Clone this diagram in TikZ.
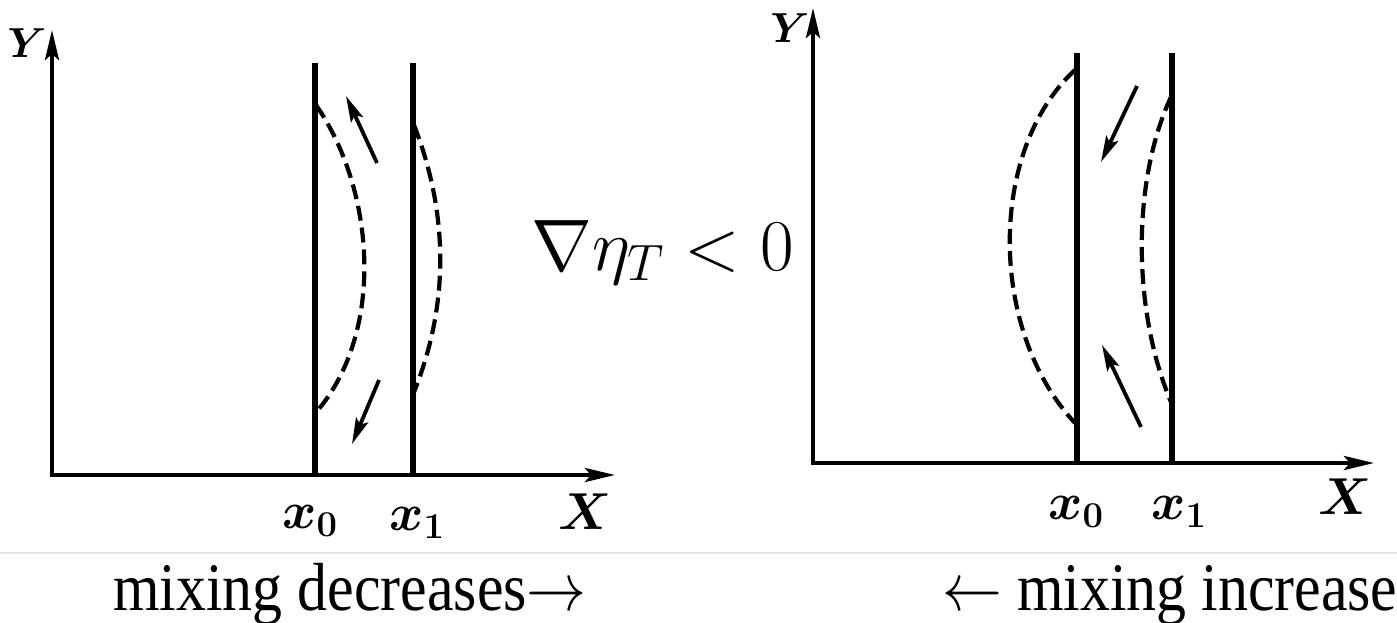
\RequirePackage{fix-cm}
\documentclass[tikz,border=0pt]{standalone}
\usepackage[no-math]{fontspec}
\setmainfont{Liberation Serif}
\usepackage{graphicx}
\usetikzlibrary{arrows.meta}
\begin{document}
\begin{tikzpicture}[x=1pt,y=-1pt,
  axis/.style={line width=4.2pt,line join=miter,
    {Stealth[length=30pt,width=14pt,inset=6pt]}-{Stealth[length=30pt,width=14pt,inset=6pt]}},
  wall/.style={line width=5.5pt},
  flow/.style={line width=4.2pt,dash pattern=on 15pt off 7pt},
  curr/.style={line width=3.8pt,-{Stealth[length=26pt,width=13pt,inset=5pt]}},
  lbl/.style={inner sep=0pt,font=\fontsize{52}{56}\selectfont\boldmath},
  ylbl/.style={inner sep=0pt,font=\fontsize{42}{46}\selectfont\boldmath},
  bottomtext/.style={anchor=base west,inner sep=0pt,font=\fontsize{68}{80}\selectfont},
  sep/.style={line width=1.5pt,draw=black!10}
]
\useasboundingbox (0,0) rectangle (1397,623);

% separator
\coordinate (sepL) at (0,553);
\coordinate (sepR) at (1397,553);
\draw[sep] (sepL) -- (sepR);

% ---------------- left panel ----------------
\coordinate (LYt) at (52,30);
\coordinate (LO)  at (52,475);
\coordinate (LXt) at (615,475);
\draw[axis] (LYt) -- (LO) -- (LXt);

\coordinate (La0t) at (315,63);  \coordinate (La0b) at (315,475);
\coordinate (La1t) at (413,63);  \coordinate (La1b) at (413,475);
\draw[wall] (La0t) -- (La0b);
\draw[wall] (La1t) -- (La1b);

\coordinate (Lc0s) at (316,105); \coordinate (Lc0e) at (318,410);
\draw[flow] (Lc0s) .. controls (375,190) and (385,330) .. (Lc0e);
\coordinate (Lc1s) at (414,125); \coordinate (Lc1e) at (414,392);
\draw[flow] (Lc1s) .. controls (449,215) and (449,305) .. (Lc1e);

\coordinate (Lu0) at (377,163); \coordinate (Lu1) at (346,96);
\draw[curr] (Lu0) -- (Lu1);
\coordinate (Ld0) at (379,380); \coordinate (Ld1) at (352,444);
\draw[curr] (Ld0) -- (Ld1);

\node[ylbl] (LYl) at (27,43) {$Y$};
\node[lbl] (LXl) at (585,512) {$X$};
\node[lbl] (Lx0) at (310,521) {$x_0$};
\node[lbl] (Lx1) at (417,523) {$x_1$};

% ---------------- middle ----------------
\node[anchor=base west,inner sep=0pt,font=\fontsize{73}{80}\selectfont] (grad) at (531,270) {$\nabla\eta_T<0$};

% ---------------- right panel ----------------
\coordinate (RYt) at (813,8);
\coordinate (RO)  at (813,463);
\coordinate (RXt) at (1374,463);
\draw[axis] (RYt) -- (RO) -- (RXt);

\coordinate (Ra0t) at (1077,53);  \coordinate (Ra0b) at (1077,463);
\coordinate (Ra1t) at (1172,53);  \coordinate (Ra1b) at (1172,463);
\draw[wall] (Ra0t) -- (Ra0b);
\draw[wall] (Ra1t) -- (Ra1b);

\coordinate (Rc0s) at (1075,70); \coordinate (Rc0e) at (1075,423);
\draw[flow] (Rc0s) .. controls (988,150) and (988,330) .. (Rc0e);
\coordinate (Rc1s) at (1171,97); \coordinate (Rc1e) at (1171,402);
\draw[flow] (Rc1s) .. controls (1132,180) and (1132,310) .. (Rc1e);

\coordinate (Rd0) at (1137,86); \coordinate (Rd1) at (1101,162);
\draw[curr] (Rd0) -- (Rd1);
\coordinate (Ru0) at (1141,427); \coordinate (Ru1) at (1102,345);
\draw[curr] (Ru0) -- (Ru1);

\node[ylbl] (RYl) at (790,28) {$Y$};
\node[lbl] (RXl) at (1345,497) {$X$};
\node[lbl] (Rx0) at (1076,512) {$x_0$};
\node[lbl] (Rx1) at (1179,512) {$x_1$};

% ---------------- bottom texts ----------------
\node[bottomtext] (mixd) at (113,610) {\scalebox{0.88}[1]{mixing decreases$\rightarrow$}};
\node[bottomtext] (mixi) at (942,610) {\scalebox{0.88}[1]{$\leftarrow$ mixing increase}};
\end{tikzpicture}
\end{document}
